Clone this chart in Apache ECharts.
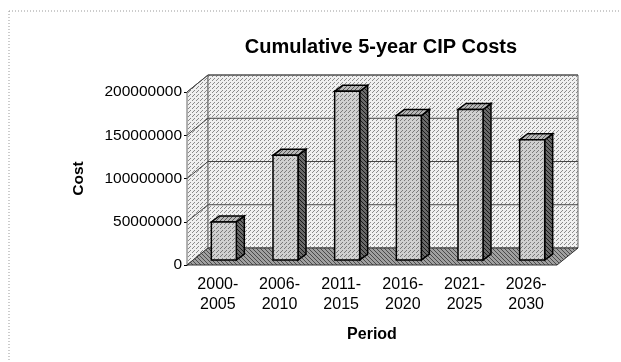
<!DOCTYPE html>
<html>
<head>
<meta charset="utf-8">
<script src="https://cdn.jsdelivr.net/npm/echarts@6/dist/echarts.min.js"></script>
<style>
html,body{margin:0;padding:0;background:#fff;}
#chart{width:621px;height:362px;}
</style>
</head>
<body>
<div id="chart"></div>
<script>
var categories = ['2000-\n2005', '2006-\n2010', '2011-\n2015', '2016-\n2020', '2021-\n2025', '2026-\n2030'];
var costs = [44000000, 121000000, 195000000, 167000000, 174000000, 139000000];
var yTicks = [0, 50000000, 100000000, 150000000, 200000000];

var FONT = "'Liberation Sans', Arial, sans-serif";
// 3D offsets (decoration)
var WDX = 21, WDY = -17;     // back wall offset
var BX = 6, BY = -5;         // bar front face offset
var BDX = 8, BDY = -6;       // bar depth
var BW = 25;

function makePattern(base, dots, dotColor, size) {
  var c = document.createElement('canvas');
  c.width = size; c.height = size;
  var g = c.getContext('2d');
  g.fillStyle = base; g.fillRect(0, 0, size, size);
  g.fillStyle = dotColor;
  for (var i = 0; i < dots.length; i++) g.fillRect(dots[i][0], dots[i][1], 1, 1);
  return c;
}
var wallPat = makePattern('#f0f0f0', [[0,0],[2,2],[1,3]], '#8a8a8a', 4);
var floorPat = makePattern('#a0a0a0', [[0,0],[2,2],[1,1],[3,3]], '#4a4a4a', 4);
var frontPat = makePattern('#d0d0d0', [[0,0],[2,2],[1,3]], '#7a7a7a', 4);
var sidePat = makePattern('#6a6a6a', [[0,0],[2,2],[1,1],[3,3]], '#1a1a1a', 4);
var topPat = makePattern('#b8b8b8', [[0,0],[2,2],[1,3],[3,1]], '#555', 4);

var chart = echarts.init(document.getElementById('chart'), null, {renderer: 'canvas'});
chart.setOption({
  backgroundColor: '#fff',
  animation: false,
  title: {
    text: 'Cumulative 5-year CIP Costs',
    left: 376, top: 32, textAlign: 'center',
    textStyle: {fontFamily: FONT, fontSize: 20, fontWeight: 'bold', color: '#000'}
  },
  graphic: [
    {type: 'line', shape: {x1: 9, y1: 11, x2: 621, y2: 11}, style: {stroke: '#999', lineDash: [1, 2], lineWidth: 1}, silent: true},
    {type: 'line', shape: {x1: 9, y1: 11, x2: 9, y2: 362}, style: {stroke: '#999', lineDash: [1, 2], lineWidth: 1}, silent: true}
  ],
  grid: {left: 187, top: 92, right: 64, bottom: 97, containLabel: false},
  xAxis: {
    type: 'category', data: categories,
    axisLine: {show: false}, axisTick: {show: false},
    axisLabel: {fontFamily: FONT, fontSize: 16, color: '#000', lineHeight: 20, margin: 10, interval: 0},
    name: 'Period', nameLocation: 'middle', nameGap: 62,
    nameTextStyle: {fontFamily: FONT, fontSize: 16, fontWeight: 'bold', color: '#000'}
  },
  yAxis: {
    type: 'value', min: 0, max: 200000000, interval: 50000000,
    axisLine: {show: true, lineStyle: {color: '#000', width: 1}},
    axisTick: {show: true, length: 3, lineStyle: {color: '#000'}},
    axisLabel: {fontFamily: FONT, fontSize: 15.5, color: '#000', margin: 5,
      formatter: function (v) { return String(v); }},
    splitLine: {show: false},
    name: 'Cost', nameLocation: 'middle', nameGap: 100, nameRotate: 90,
    nameTextStyle: {fontFamily: FONT, fontSize: 15.5, fontWeight: 'bold', color: '#000'}
  },
  series: [
    {
      type: 'custom', name: 'walls', z: 1, silent: true,
      data: [[0, 0]],
      renderItem: function (params, api) {
        var cs = params.coordSys;
        var x = cs.x, y = cs.y, w = cs.width, h = cs.height;
        var children = [];
        children.push({type: 'polygon', shape: {points: [[x, y], [x, y + h], [x + WDX, y + h + WDY], [x + WDX, y + WDY]]},
          style: {fill: {image: wallPat, repeat: 'repeat'}, stroke: '#666', lineWidth: 1}});
        children.push({type: 'rect', shape: {x: x + WDX, y: y + WDY, width: w, height: h},
          style: {fill: {image: wallPat, repeat: 'repeat'}, stroke: '#666', lineWidth: 1}});
        for (var i = 1; i < yTicks.length; i++) {
          var yt = api.coord([0, yTicks[i]])[1];
          children.push({type: 'line', shape: {x1: x + WDX, y1: yt + WDY, x2: x + WDX + w, y2: yt + WDY},
            style: {stroke: '#444', lineWidth: 1}});
          children.push({type: 'line', shape: {x1: x, y1: yt, x2: x + WDX, y2: yt + WDY},
            style: {stroke: '#444', lineWidth: 1}});
        }
        children.push({type: 'polygon', shape: {points: [[x, y + h], [x + w, y + h], [x + w + WDX, y + h + WDY], [x + WDX, y + h + WDY]]},
          style: {fill: {image: floorPat, repeat: 'repeat'}, stroke: '#333', lineWidth: 1}});
        return {type: 'group', children: children};
      }
    },
    {
      type: 'custom', name: 'Cost', z: 3,
      data: costs.map(function (v, i) { return [i, v]; }),
      renderItem: function (params, api) {
        var idx = api.value(0);
        var p = api.coord([idx, api.value(1)]);
        var p0 = api.coord([idx, 0]);
        var cx = p[0] + BX;
        var l = cx - BW / 2, r = cx + BW / 2;
        var t = p[1] + BY, b = p0[1] + BY;
        return {type: 'group', children: [
          {type: 'polygon', shape: {points: [[r, t], [r, b], [r + BDX, b + BDY], [r + BDX, t + BDY]]},
            style: {fill: {image: sidePat, repeat: 'repeat'}, stroke: '#000', lineWidth: 1.5}},
          {type: 'polygon', shape: {points: [[l, t], [r, t], [r + BDX, t + BDY], [l + BDX, t + BDY]]},
            style: {fill: {image: topPat, repeat: 'repeat'}, stroke: '#000', lineWidth: 1.5}},
          {type: 'rect', shape: {x: l, y: t, width: BW, height: b - t},
            style: {fill: {image: frontPat, repeat: 'repeat'}, stroke: '#000', lineWidth: 1.5}}
        ]};
      }
    }
  ]
});
</script>
</body>
</html>
